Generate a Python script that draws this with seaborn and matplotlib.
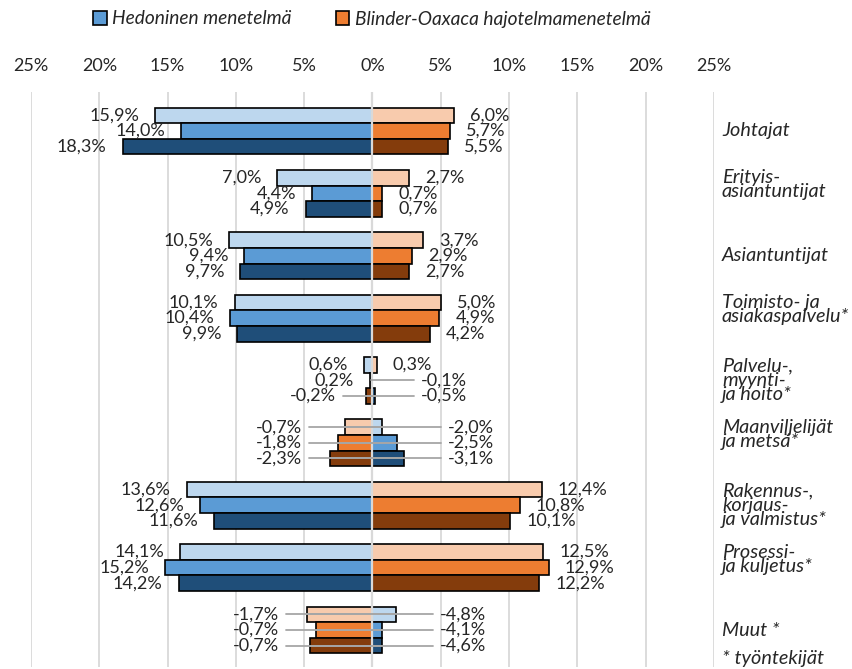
import matplotlib
matplotlib.use("Agg")
import matplotlib.pyplot as plt
from matplotlib.patches import Patch
import seaborn as sns
import pandas as pd

# ---------------- data ----------------
categories = [
    "Johtajat",
    "Erityis-\nasiantuntijat",
    "Asiantuntijat",
    "Toimisto- ja\nasiakaspalvelu*",
    "Palvelu-,\nmyynti-\nja hoito*",
    "Maanviljelijät\nja metsä*",
    "Rakennus-,\nkorjaus-\nja valmistus*",
    "Prosessi-\nja kuljetus*",
    "Muut *",
]
hed_row1 = [15.9, 7.0, 10.5, 10.1, 0.6, -0.7, 13.6, 14.1, -1.7]
hed_row2 = [14.0, 4.4, 9.4, 10.4, 0.2, -1.8, 12.6, 15.2, -0.7]
hed_row3 = [18.3, 4.9, 9.7, 9.9, -0.2, -2.3, 11.6, 14.2, -0.7]
blin_row1 = [6.0, 2.7, 3.7, 5.0, 0.3, -2.0, 12.4, 12.5, -4.8]
blin_row2 = [5.7, 0.7, 2.9, 4.9, -0.1, -2.5, 10.8, 12.9, -4.1]
blin_row3 = [5.5, 0.7, 2.7, 4.2, -0.5, -3.1, 10.1, 12.2, -4.6]
series_names = ["Hedoninen menetelmä", "Blinder-Oaxaca hajotelmamenetelmä"]
footnote = "* työntekijät"
tick_values = [-25, -20, -15, -10, -5, 0, 5, 10, 15, 20, 25]

blues = ["#BDD7EE", "#5B9BD5", "#1F4E79"]
oranges = ["#F8CBAD", "#ED7D31", "#843C0C"]

# ---------------- setup ----------------
sns.set_theme(style="white")
plt.rcParams["font.family"] = ["Lato", "DejaVu Sans"]
FS = 13.0       # numbers
FS_CAT = 14.3   # italic category labels
FS_LEG = 13.8   # legend

W, H = 853, 669
fig = plt.figure(figsize=(W / 100, H / 100), dpi=100)
ax_left, ax_right, ax_top, ax_bot = 31, 714, 92, 667
ax = fig.add_axes([ax_left / W, 1 - ax_bot / H, (ax_right - ax_left) / W, (ax_bot - ax_top) / H])
px = (ax_right - ax_left) / 50.0  # pixels per percent unit

rows = ["r1", "r2", "r3"]
hed = [hed_row1, hed_row2, hed_row3]
blin = [blin_row1, blin_row2, blin_row3]

df_h = pd.DataFrame([{"cat": c, "row": rows[r], "val": -hed[r][i]}
                     for r in range(3) for i, c in enumerate(categories)])
df_b = pd.DataFrame([{"cat": c, "row": rows[r], "val": blin[r][i]}
                     for r in range(3) for i, c in enumerate(categories)])

# gridlines
for t in tick_values:
    ax.axvline(t, color="#D9D9D9", lw=1.3, zorder=0)

common = dict(y="cat", x="val", hue="row", order=categories, hue_order=rows,
              orient="h", width=0.75, edgecolor="black", linewidth=1.2,
              errorbar=None, legend=False, ax=ax, dodge=True, saturation=1)
sns.barplot(data=df_h, palette=blues, **common)
sns.barplot(data=df_b, palette=oranges, **common)
for p in ax.patches:
    p.set_zorder(2)

ax.axvline(0, color="#D9D9D9", lw=1.6, zorder=4)

ax.set_xlim(-25, 25)
ax.set_ylim(8 + 37 / 62.4, -39 / 62.4)
ax.set_xticks(tick_values)
ax.set_xticklabels([f"{abs(t)}%" for t in tick_values], fontsize=FS, color="#262626")
ax.xaxis.tick_top()
ax.tick_params(axis="x", length=0, pad=13)
ax.set_yticks([])
ax.set_xlabel("")
ax.set_ylabel("")
for s in ax.spines.values():
    s.set_visible(False)


def fmt(v):
    return f"{v:.1f}".replace(".", ",") + "%"


lead_col = "#A6A6A6"
for i in range(len(categories)):
    left_ext = max([max(hed[r][i], -blin[r][i], 0) for r in range(3)])
    right_ext = max([max(blin[r][i], -hed[r][i], 0) for r in range(3)])
    for r in range(3):
        y = i + (r - 1) * 0.25
        hv, bv = hed[r][i], blin[r][i]
        if hv >= 0:
            ax.annotate(fmt(hv), (-hv, y), xytext=(-11.5, 0), textcoords="offset points",
                        ha="right", va="center", fontsize=FS, color="#262626", zorder=6)
        else:
            xl = -left_ext - 28 / px
            ax.text(xl, y, fmt(hv), ha="right", va="center", fontsize=FS,
                    color="#262626", zorder=6)
            ax.plot([xl + 7 / px, -hv], [y, y], color=lead_col, lw=1.3, zorder=5)
        if bv >= 0:
            ax.annotate(fmt(bv), (bv, y), xytext=(11.5, 0), textcoords="offset points",
                        ha="left", va="center", fontsize=FS, color="#262626", zorder=6)
        else:
            xr = right_ext + 44 / px
            ax.text(xr, y, fmt(bv), ha="left", va="center", fontsize=FS,
                    color="#262626", zorder=6)
            ax.plot([xr - 7 / px, bv], [y, y], color=lead_col, lw=1.3, zorder=5)

# category labels
lab_x = 25 + 8 / px
for i, c in enumerate(categories):
    n = c.count("\n") + 1
    dy = -8.5 / 62.4 if n == 2 else 0
    ax.text(lab_x, i + dy, c, ha="left", va="center", fontsize=FS_CAT, style="italic",
            color="#262626", linespacing=0.8, clip_on=False)
ax.text(lab_x, 8 + 28 / 62.4, footnote, ha="left", va="center", fontsize=FS_CAT,
        style="italic", color="#262626", clip_on=False)

# legend
handles = [Patch(facecolor=blues[1], edgecolor="black", linewidth=1.2, label=series_names[0]),
           Patch(facecolor=oranges[1], edgecolor="black", linewidth=1.2, label=series_names[1])]
fig.legend(handles=handles, loc="center", bbox_to_anchor=(372 / W, 1 - 19 / H), ncol=2,
           frameon=False, prop={"size": FS_LEG, "style": "italic"}, handlelength=0.7,
           handleheight=0.7, handletextpad=0.3, columnspacing=2.3, labelcolor="#262626")

fig.savefig("out.png", dpi=100)
